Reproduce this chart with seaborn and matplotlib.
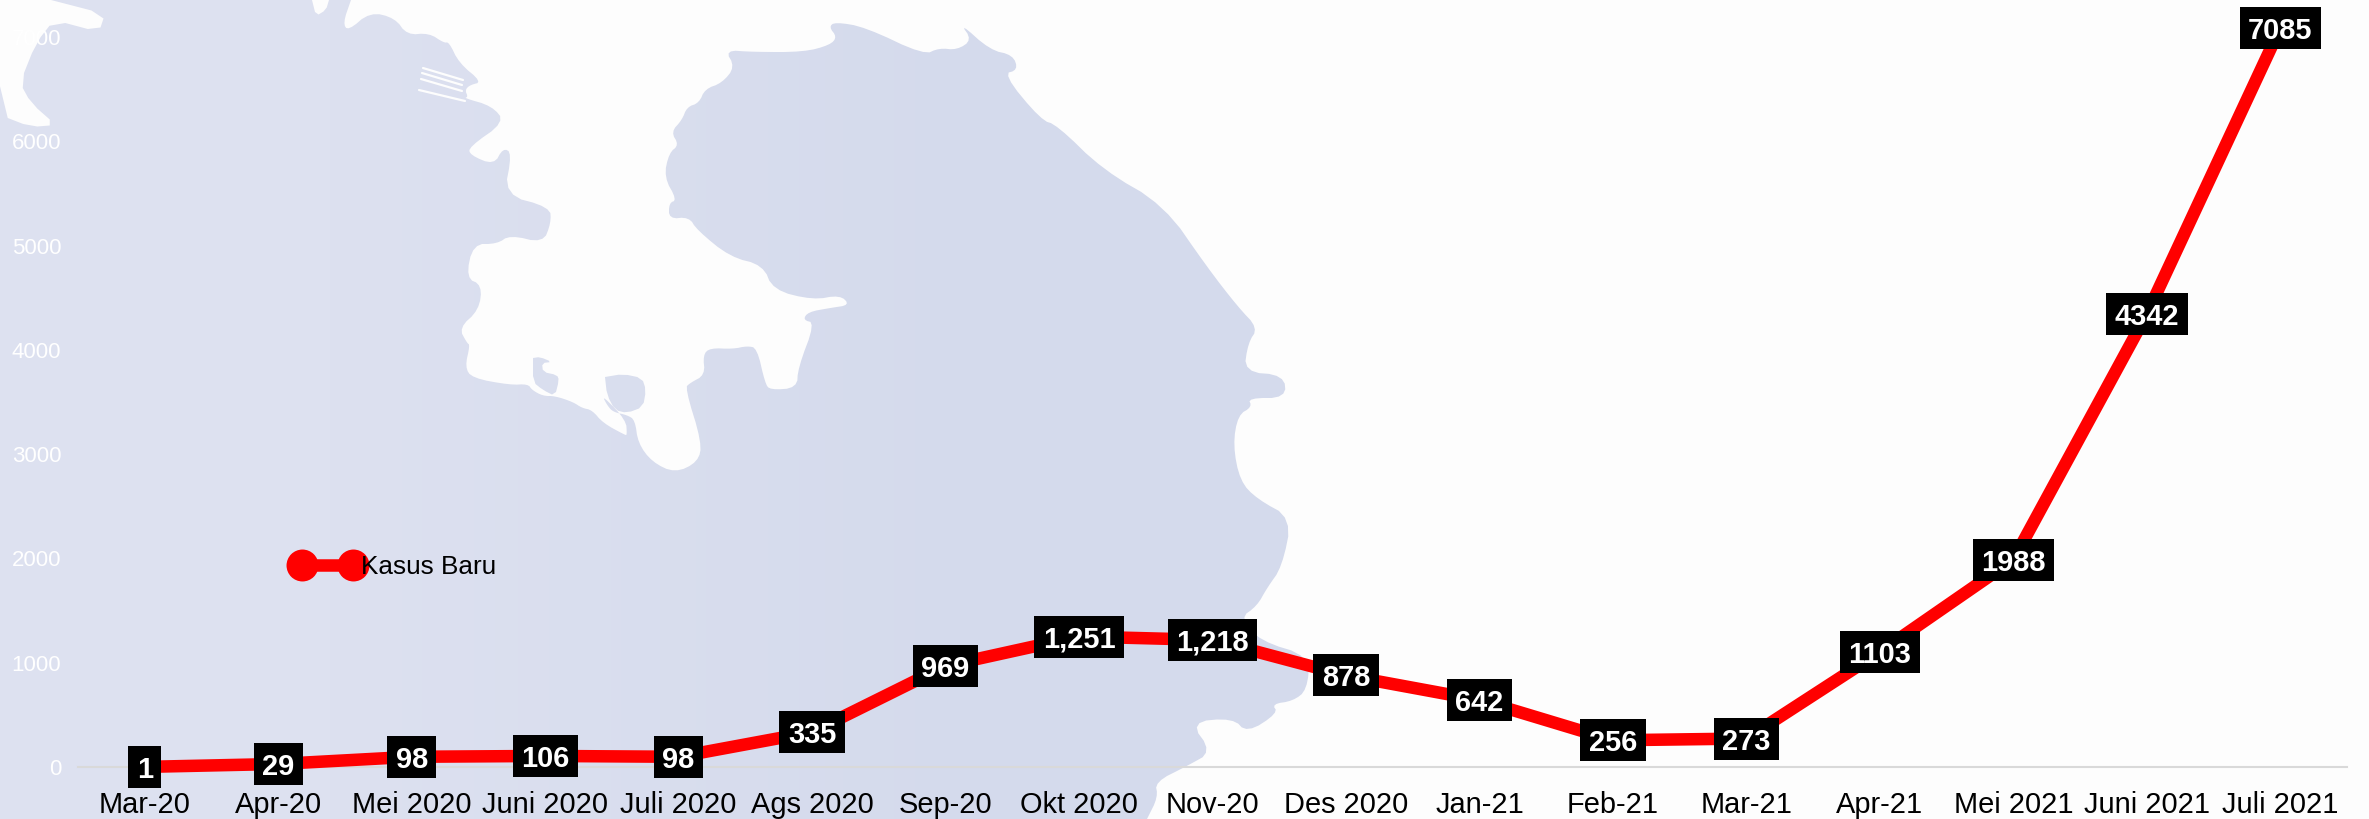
import numpy as np
import pandas as pd
import matplotlib
matplotlib.use('Agg')
import matplotlib.pyplot as plt
import seaborn as sns
from matplotlib.patches import Polygon, Rectangle
from matplotlib.transforms import IdentityTransform

# Chart data
months = ['Mar-20', 'Apr-20', 'Mei 2020', 'Juni 2020', 'Juli 2020', 'Ags 2020', 'Sep-20',
          'Okt 2020', 'Nov-20', 'Des 2020', 'Jan-21', 'Feb-21', 'Mar-21', 'Apr-21',
          'Mei 2021', 'Juni 2021', 'Juli 2021']
new_cases = [1, 29, 98, 106, 98, 335, 969, 1251, 1218, 878, 642, 256, 273, 1103, 1988, 4342, 7085]
case_labels = ['1', '29', '98', '106', '98', '335', '969', '1,251', '1,218', '878', '642', '256',
               '273', '1103', '1988', '4342', '7085']
y_ticks = [0, 1000, 2000, 3000, 4000, 5000, 6000, 7000]

# Background map outline, in picture pixels
coast = [(351, 0), (343, 23), (348, 31), (370, 12), (395, 18), (407, 35), (429, 33),
         (444, 43), (449, 42), (459, 63), (482, 82), (470, 85), (465, 90), (468, 97), (464, 98), (492, 106),
         (505, 122), (469, 147), (470, 155), (494, 165), (503, 148), (512, 153), (504, 195), (550, 207),
         (551, 223), (543, 243), (510, 235), (497, 244), (473, 244), (466, 278), (482, 285), (479, 310),
         (459, 328), (467, 343), (470, 345), (465, 367), (472, 378), (510, 385), (528, 384), (532, 390),
         (543, 396), (555, 396), (573, 402), (582, 408), (592, 410), (603, 423), (625, 435), (627, 435),
         (626, 420), (602, 395), (607, 405), (613, 412), (627, 415), (635, 420), (638, 443), (652, 462),
         (675, 473), (698, 462), (702, 443), (685, 388), (690, 383), (705, 375), (703, 355), (710, 348),
         (733, 349), (747, 346), (757, 348), (765, 383), (770, 390), (797, 388), (798, 368), (815, 323),
         (803, 320), (808, 312), (830, 308), (850, 305), (840, 295), (813, 300), (773, 290), (763, 265),
         (730, 257), (697, 230), (689, 217), (669, 219), (669, 203), (677, 200), (664, 177), (669, 153),
         (679, 145), (671, 132), (682, 120), (687, 107), (699, 103), (705, 89), (722, 83), (735, 67),
         (725, 50), (753, 52), (804, 52), (830, 45), (837, 37), (829, 27), (835, 22), (865, 27), (924, 55),
         (939, 48), (957, 50), (972, 40), (960, 23), (990, 50), (1013, 55), (1018, 70), (1003, 74),
         (1041, 120), (1057, 125), (1103, 170), (1164, 205), (1207, 267), (1238, 307), (1258, 328),
         (1248, 343), (1244, 372), (1284, 375), (1286, 398), (1248, 398), (1252, 407), (1238, 415),
         (1233, 445), (1240, 481), (1257, 499), (1292, 518), (1282, 567), (1267, 588), (1257, 606),
         (1240, 618), (1260, 641), (1310, 656), (1307, 690), (1293, 701), (1272, 704), (1278, 713),
         (1247, 733), (1233, 718), (1190, 722), (1212, 752), (1187, 766), (1155, 782), (1158, 797),
         (1147, 819)]
islet = [(533, 358), (540, 357), (552, 362), (542, 363), (543, 372), (557, 375), (559, 380), (555, 396),
         (543, 390), (533, 382)]
pond = [(605, 377), (623, 374), (642, 378), (646, 390), (643, 407), (627, 413), (615, 410), (607, 395)]
top_left_sea = [(51, 0), (105, 14), (99, 32), (54, 20), (36, 43), (20, 83), (31, 103), (56, 125), (31, 127),
                (0, 115), (0, 0)]
inlet = [(312, 0), (316, 16), (326, 10), (329, 0)]
piers = [[(423, 68), (463, 80)], [(422, 73), (462, 85)], [(421, 79), (462, 91)], [(419, 90), (465, 101)]]


def soften(points, rounds=2):
    # corner cutting, keeps the two end points
    pts = np.array(points, dtype=float)
    for _ in range(rounds):
        a, b = pts[:-1], pts[1:]
        cut = np.empty((len(a) * 2, 2))
        cut[0::2] = 0.75 * a + 0.25 * b
        cut[1::2] = 0.25 * a + 0.75 * b
        pts = np.vstack([pts[:1], cut, pts[-1:]])
    return pts


sns.set_theme(style='white')
plt.rcParams['font.family'] = ['Liberation Sans', 'DejaVu Sans']

sea = '#FDFDFD'
df = pd.DataFrame({'month': months, 'cases': new_cases})

fig = plt.figure(figsize=(23.69, 8.19), dpi=100, facecolor=sea)

# Map layer
bg = fig.add_axes([0, 0, 1, 1], zorder=-1)
bg.axis('off')
land = Polygon(np.vstack([[(0, 819), (0, 0)], soften(coast)]), closed=True, facecolor='none', edgecolor='none')
bg.add_patch(land)
shade = np.array([[[221, 225, 240], [212, 218, 236]]], dtype=np.uint8)
im = bg.imshow(shade, extent=(0, 1320, 819, 0), aspect='auto', interpolation='bilinear')
im.set_clip_path(land)
bg.set_xlim(0, 2369)
bg.set_ylim(819, 0)
for shape in (islet, pond):
    bg.add_patch(Polygon(soften(shape + shape[:1], 1), closed=True, facecolor='#D9DEEE', edgecolor='none'))
for shape in (top_left_sea, inlet):
    bg.add_patch(Polygon(soften(shape, 1), closed=True, facecolor=sea, edgecolor='none'))
for pier in piers:
    bg.plot(*zip(*pier), color=sea, lw=1.6)

# Chart layer
ax = fig.add_axes([78 / 2369, 52 / 819, (2347 - 78) / 2369, 767 / 819])
ax.patch.set_alpha(0)
sns.lineplot(data=df, x='month', y='cases', sort=False, errorbar=None, ax=ax, color='#FF0000',
             linewidth=9, marker='o', markersize=23, markeredgewidth=0, label='Kasus Baru', clip_on=False,
             zorder=3)
ax.set_xlim(-0.5, len(months) - 0.5)
ax.set_ylim(0, 7354)
ax.set_xlabel('')
ax.set_ylabel('')
ax.set_yticks(y_ticks)
ax.tick_params(axis='x', length=0, labelsize=20.9, labelcolor='black', pad=17)
ax.tick_params(axis='y', length=0, labelsize=16, labelcolor='white', pad=12)
sns.despine(ax=ax, left=True)
ax.spines['bottom'].set_color('#D9D9D9')
ax.spines['bottom'].set_linewidth(1.5)

ax.legend(loc='center left', bbox_to_anchor=(294 / 2369, 1 - 567 / 819), bbox_transform=fig.transFigure,
          frameon=False, fontsize=18.8, numpoints=2, handlelength=2.56, handletextpad=0, borderpad=0,
          borderaxespad=0, labelcolor='black')

# Value labels on black boxes
labels = [ax.text(i, v, s, color='white', fontsize=20.9, fontweight='bold', ha='center',
                  va='center_baseline', zorder=6, clip_on=False)
          for i, (v, s) in enumerate(zip(new_cases, case_labels))]
fig.canvas.draw()
renderer = fig.canvas.get_renderer()
for i, (v, t) in enumerate(zip(new_cases, labels)):
    cx, cy = ax.transData.transform((i, v))
    w = t.get_window_extent(renderer).width + 17
    ax.add_patch(Rectangle((cx - w / 2, cy - 21), w, 42, transform=IdentityTransform(), facecolor='black',
                           edgecolor='none', zorder=5, clip_on=False))

fig.savefig('out.png', dpi=100, facecolor=sea)
